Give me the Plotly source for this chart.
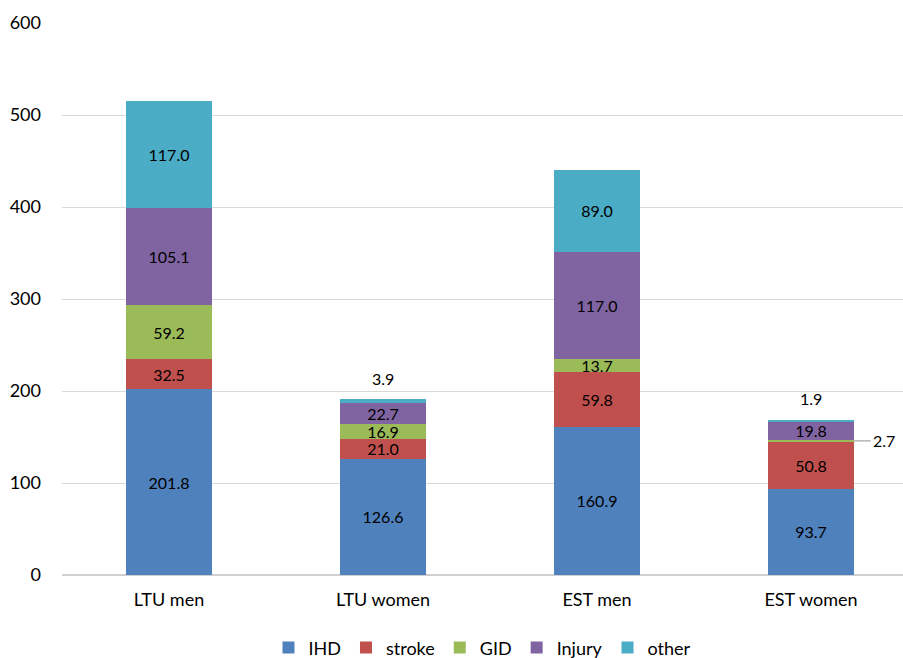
import plotly.graph_objects as go

groups = ["LTU men", "LTU women", "EST men", "EST women"]
causes = ["IHD", "stroke", "GID", "Injury", "other"]
colors = ["#4f81bd", "#c0504d", "#9bbb59", "#8064a2", "#4bacc6"]

ihd = [201.8, 126.6, 160.9, 93.7]
stroke = [32.5, 21.0, 59.8, 50.8]
gid = [59.2, 16.9, 13.7, 2.7]
injury = [105.1, 22.7, 117.0, 19.8]
other = [117.0, 3.9, 89.0, 1.9]

series = [ihd, stroke, gid, injury, other]
xpos = list(range(len(groups)))
font_family = "Lato, 'Open Sans', sans-serif"

fig = go.Figure()
for name, vals, col in zip(causes, series, colors):
    labels = [f"{v:.1f}" if v >= 10 else "" for v in vals]
    fig.add_trace(go.Bar(
        x=xpos, y=vals, name=name, marker=dict(color=col, line=dict(width=0)),
        width=0.40, text=labels, textposition="inside", insidetextanchor="middle",
        textangle=0, constraintext="none",
        textfont=dict(color="black", size=16, family=font_family),
        hoverinfo="skip",
    ))

totals = [sum(s[i] for s in series) for i in range(len(groups))]

# small "other" segments labelled above the stack
for i in (1, 3):
    fig.add_annotation(x=xpos[i], y=totals[i], yshift=21, text=f"{other[i]:.1f}",
                       showarrow=False, font=dict(size=16, color="black", family=font_family))

# tiny GID segment for EST women labelled to the right with a leader line
gid_mid = ihd[3] + stroke[3] + gid[3] / 2
fig.add_annotation(x=xpos[3] + 0.2, y=gid_mid, ax=17, ay=0, axref="pixel", ayref="pixel",
                   text=f"{gid[3]:.1f}", showarrow=True, arrowhead=0, arrowwidth=1.2,
                   arrowcolor="#a6a6a6", xanchor="left",
                   font=dict(size=16, color="black", family=font_family))

fig.update_layout(
    barmode="stack",
    width=903, height=658,
    margin=dict(l=62, r=0, t=23, b=83, autoexpand=False),
    paper_bgcolor="white", plot_bgcolor="white",
    font=dict(family=font_family, size=18, color="black"),
    showlegend=True,
    legend=dict(orientation="h", x=0.5, xanchor="center", y=-0.132, yanchor="middle",
                font=dict(size=18, family=font_family), itemwidth=30,
                traceorder="normal", itemclick=False),
    xaxis=dict(range=[-0.5, 3.43], tickvals=xpos, ticktext=groups, showgrid=False,
               showline=False, zeroline=False, ticks="", ticklabelstandoff=12,
               tickfont=dict(size=18), automargin=False),
    yaxis=dict(range=[0, 600], dtick=100, showgrid=True, gridcolor="#d9d9d9",
               gridwidth=1.3, zeroline=True, zerolinecolor="#d0d0d0", zerolinewidth=1.5,
               showline=False, ticks="", ticklabelstandoff=20, tickfont=dict(size=18),
               automargin=False),
)

fig.write_html("out.html")
